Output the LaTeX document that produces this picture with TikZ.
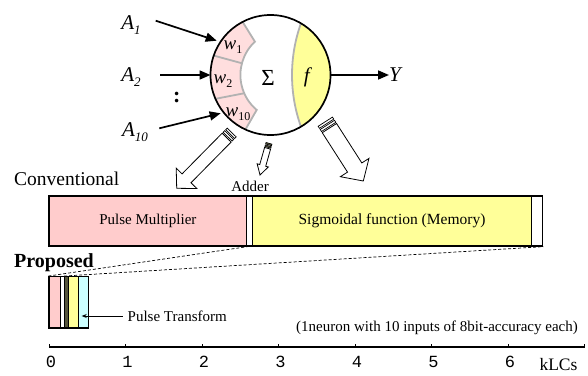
\documentclass[tikz,border=0pt]{standalone}
\usepackage{fontspec}
\setmainfont{Liberation Serif}
\newfontfamily\monof{Liberation Mono}
\usetikzlibrary{calc,arrows.meta}
\definecolor{pinkC}{RGB}{255,204,204}
\definecolor{pinkW}{RGB}{255,222,222}
\definecolor{yellowC}{RGB}{255,255,153}
\definecolor{cyanC}{RGB}{204,255,255}
\definecolor{darkseg}{RGB}{85,85,60}
\definecolor{grayL}{RGB}{178,178,178}
\newcommand\fs[1]{\fontsize{#1}{#1}\selectfont}
\newcommand\Asub[1]{\textit{A}\raisebox{-4.5pt}{\fs{13}\textit{#1}}}
\newcommand\wsub[1]{\textit{w}\raisebox{-3.5pt}{\fs{12}#1}}
% hollow block arrow: tail, tip, shaft half width, head half width, head length, shaft start
\newcommand\hollowarr[6]{%
  \coordinate (hb) at ($(#2)!#5!(#1)$);
  \coordinate (hs) at ($(#1)!#6!(#2)$);
  \draw[hol] ($(hs)!#3!90:(#2)$) -- ($(hb)!#3!90:(#2)$) -- ($(hb)!#4!90:(#2)$) -- (#2)
     -- ($(hb)!#4!-90:(#2)$) -- ($(hb)!#3!-90:(#2)$) -- ($(hs)!#3!-90:(#2)$) -- cycle;}
% stripe bar at the tail: tail, tip, d1, d2, half width, style
\newcommand\arrbar[6]{%
  \coordinate (ba) at ($(#1)!#3!(#2)$);
  \coordinate (bb) at ($(#1)!#4!(#2)$);
  \draw[#6] ($(ba)!#5!90:(#2)$) -- ($(bb)!#5!90:(#2)$) -- ($(bb)!#5!-90:(#2)$) -- ($(ba)!#5!-90:(#2)$) -- cycle;}
\begin{document}
\begin{tikzpicture}[x=1pt,y=-1pt,
  hol/.style={draw=black,line width=0.8pt,fill=white,line join=miter},
  barw/.style={draw=black,line width=0.7pt,fill=white},
  bark/.style={draw=black,line width=0.6pt,fill=darkseg},
  grayl/.style={draw=grayL,line width=1.8pt},
  inarr/.style={line width=1.7pt,-{Triangle[length=11pt,width=9pt]}},
  seg/.style={draw=black,line width=1.3pt,inner sep=0pt,anchor=center},
  lbl/.style={inner sep=0pt,font=\fs{15}},
  tick/.style={inner sep=0pt,font=\monof\fs{17}},
  dashl/.style={line width=0.7pt,dash pattern=on 3pt off 2pt}]
\useasboundingbox (0,0) rectangle (588,375);
\fill[white] (0,0) rectangle (588,375);

% ---------- neuron ----------
\coordinate (c) at (270.5,75);
\coordinate (ci) at (286,75);
\fill[pinkW] ($(c)+(-117.7:60)$) -- ($(ci)+(-133:45.6)$) arc[start angle=-133,end angle=-230,radius=45.6]
   -- ($(c)+(114.7:60)$) arc[start angle=114.7,end angle=242.3,radius=60] -- cycle;
\begin{scope}
  \clip (c) circle[radius=60];
  \fill[yellowC] (446,75) circle[radius=154];
\end{scope}
\draw[grayl] ($(c)+(-117.7:60)$) -- ($(ci)+(-133:45.6)$) arc[start angle=-133,end angle=-230,radius=45.6]
   -- ($(c)+(114.7:60)$);
\draw[grayl] ($(c)+(-161.1:60)$) -- ($(ci)+(-165.1:45.6)$);
\draw[grayl] ($(c)+(156.6:60)$) -- ($(ci)+(156.4:45.6)$);
\draw[grayl] ($(446,75)+(-160.4:154)$) arc[start angle=-160.4,end angle=-199.6,radius=154];
\node[draw,circle,line width=1.7pt,minimum size=120pt,inner sep=0pt] (neu) at (c) {};

\node[inner sep=0pt,font=\fs{19}] (w1) at (233,47) {\wsub{1}};
\node[inner sep=0pt,font=\fs{19}] (w2) at (223,81) {\wsub{2}};
\node[inner sep=0pt,font=\fs{19}] (w10) at (238,114) {\wsub{10}};
\node[inner sep=0pt,font=\fs{23}] (sig) at (268,78) {Σ};
\node[inner sep=0pt,font=\fs{21}] (fn) at (308,77) {\textit{f}};

% inputs
\node[inner sep=0pt,font=\fs{21}] (A1) at (131,25) {\Asub{1}};
\node[inner sep=0pt,font=\fs{21}] (A2) at (131,77) {\Asub{2}};
\node[inner sep=0pt,font=\fs{21}] (A10) at (135,132) {\Asub{10}};
\node[inner sep=0pt,font=\bfseries\fs{22}] (dots) at (176.7,97) {:};
\coordinate (s1) at (155.7,20.7); \coordinate (e1) at (216.7,40.7);
\coordinate (s2) at (160,75);     \coordinate (e2) at (210.5,75);
\coordinate (s10) at (159.3,128.3); \coordinate (e10) at (220.7,113.3);
\draw[inarr] (s1) -- (e1);
\draw[inarr] (s2) -- (e2);
\draw[inarr] (s10) -- (e10);
\node[inner sep=0pt,font=\fs{21},anchor=west] (Y) at (389,75) {\textit{Y}};
\draw[inarr] (neu.east) -- (Y.west);

% ---------- hollow arrows ----------
\coordinate (t1) at (231.7,132.5); \coordinate (h1) at (176.7,188.3);
\arrbar{t1}{h1}{0pt}{2.2pt}{6.3pt}{barw}
\arrbar{t1}{h1}{3.6pt}{5.8pt}{6.3pt}{barw}
\hollowarr{t1}{h1}{6.3pt}{14.5pt}{14pt}{7.2pt}
\coordinate (t2) at (269,143.3); \coordinate (h2) at (260,175);
\arrbar{t2}{h2}{0pt}{1.6pt}{3.1pt}{bark}
\arrbar{t2}{h2}{2.6pt}{4.2pt}{3.1pt}{bark}
\hollowarr{t2}{h2}{3.1pt}{5.8pt}{10pt}{5.2pt}
\coordinate (t3) at (325.3,121.7); \coordinate (h3) at (363.3,181);
\arrbar{t3}{h3}{0pt}{2.4pt}{8.5pt}{barw}
\arrbar{t3}{h3}{3.8pt}{6.2pt}{8.5pt}{barw}
\hollowarr{t3}{h3}{8.5pt}{17pt}{16pt}{7.6pt}

% ---------- conventional ----------
\node[inner sep=0pt,font=\fs{19.5},anchor=base west] (conv) at (14,185) {Conventional};
\node[lbl,anchor=base] (addl) at (250,191) {Adder};
\node[seg,fill=pinkC,minimum width=197.7pt,minimum height=50pt,font=\fs{15}] (pm) at (147.85,221) {Pulse Multiplier};
\node[seg,fill=white,minimum width=5.6pt,minimum height=50pt] (add) at (249.5,221) {};
\node[seg,fill=yellowC,minimum width=279.4pt,minimum height=50pt,font=\fs{15.5}] (sg) at (392,221) {Sigmoidal function (Memory)};
\node[seg,fill=white,minimum width=11pt,minimum height=50pt] (wend) at (537.2,221) {};

% ---------- proposed ----------
\node[inner sep=0pt,font=\bfseries\fs{20},anchor=base west] (prop) at (14,267) {Proposed};
\node[seg,fill=pinkC,minimum width=11.3pt,minimum height=51.3pt] (p1) at (54.65,302.35) {};
\node[seg,fill=white,minimum width=4.4pt,minimum height=51.3pt] (p2) at (62.5,302.35) {};
\node[seg,fill=darkseg,minimum width=4pt,minimum height=51.3pt] (p3) at (66.7,302.35) {};
\node[seg,fill=yellowC,minimum width=10pt,minimum height=51.3pt] (p4) at (73.7,302.35) {};
\node[seg,fill=cyanC,minimum width=9.6pt,minimum height=51.3pt] (p5) at (83.5,302.35) {};
\draw[dashl] (p1.north west) -- (pm.south east);
\draw[dashl] (p3.north west) -- (wend.south east);
\node[lbl,anchor=west] (ptl) at (127.5,316) {Pulse Transform};
\coordinate (ptt) at (81.7,316);
\draw[line width=0.9pt,-{Stealth[length=5pt,width=4pt]}] (ptl.west) ++(-5pt,0) -- (ptt);
\node[lbl,anchor=east] (note) at (578,328) {(1neuron with 10 inputs of 8bit-accuracy each)};

% ---------- axis ----------
\coordinate (ax0) at (49.3,347); \coordinate (ax1) at (585,347);
\draw[line width=1.2pt] (ax0) -- (ax1);
\foreach \i in {0,...,7} {\draw[line width=1.2pt] ({49.3+76.5*\i},347) -- ++(0,-3.5);}
\foreach \i in {0,...,6} {\node[tick] (tk\i) at ({51+76.5*\i},362) {\i};}
\node[inner sep=0pt,font=\fs{17.5}] (klcs) at (558.5,365) {kLCs};
\end{tikzpicture}
\end{document}
